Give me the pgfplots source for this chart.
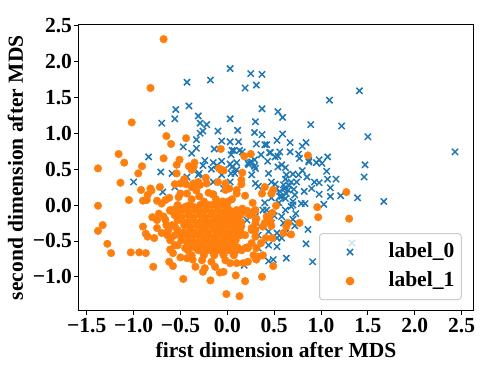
\documentclass[border=0pt]{standalone}
\usepackage{fontspec}
\setmainfont{Liberation Serif}
\usepackage{pgfplots}
\pgfplotsset{compat=1.18}
\definecolor{mplblue}{HTML}{1F77B4}
\definecolor{mplorange}{HTML}{FF7F0E}
\begin{document}
\begin{tikzpicture}[x=1pt,y=1pt]
\useasboundingbox (-78.5pt,-63pt) rectangle (419.5pt,311pt);
\begin{axis}[
    at={(0pt,0pt)}, anchor=south west,
    scale only axis, width=395pt, height=286.5pt,
    xmin=-1.588, xmax=2.627, ymin=-1.476, ymax=2.514,
    xtick={-1.5,-1,-0.5,0,0.5,1,1.5,2,2.5},
    xticklabels={−1.5,−1.0,−0.5,0.0,0.5,1.0,1.5,2.0,2.5},
    ytick={-1,-0.5,0,0.5,1,1.5,2,2.5},
    yticklabels={−1.0,−0.5,0.0,0.5,1.0,1.5,2.0,2.5},
    tick pos=left, tick align=outside,
    major tick length=4pt,
    every tick/.style={black, line width=0.8pt},
    axis line style={black, line width=1pt},
    ticklabel style={font=\fontsize{21.5}{22}\selectfont\bfseries},
    xticklabel style={yshift=0pt},
    yticklabel style={xshift=1pt},
    label style={font=\fontsize{21.5}{22}\selectfont\bfseries},
    xlabel={first dimension after MDS},
    ylabel={second dimension after MDS},
    xlabel style={yshift=-2pt},
    ylabel style={yshift=3pt},
    legend style={
        at={(0.609,0.038)}, anchor=south west,
        draw=black!20, line width=1pt, rounded corners=3pt,
        fill=white, fill opacity=0.8, text opacity=1,
        font=\fontsize{21.5}{22}\selectfont\bfseries,
        inner xsep=5pt, inner ysep=6.5pt,
        nodes={text height=15pt, text depth=5pt},
        row sep=5pt,
    },
    legend image code/.code={\path (0pt,0pt) (61pt,0pt); \draw[#1] plot coordinates {(25pt,0pt)};},
    legend image post style={opacity=1},
    legend cell align=left,
]
\addplot[only marks, mark=x, mark size=4.4pt, color=mplblue, mark options={line width=1.5pt}] coordinates {
(0.03,1.90)(0.25,1.83)(0.37,1.82)(0.31,1.67)(0.19,1.63)(-0.18,1.74)(-0.43,1.71)(-0.41,1.38)(-0.55,1.33)(-0.56,1.20)
(-0.70,1.14)(-0.31,1.24)(-0.29,1.14)(-0.22,1.12)(0.03,1.20)(0.37,1.34)(0.30,1.16)(0.11,1.04)(-0.10,1.03)(-0.26,1.03)
(-0.29,1.00)(0.29,1.01)(0.37,0.98)(-0.33,0.91)(-0.06,0.89)(0.03,0.88)(0.12,0.88)(0.31,0.85)(0.42,0.84)(-0.47,0.81)
(-0.33,0.79)(-0.14,0.78)(0.05,0.76)(0.07,0.76)(0.13,0.76)(0.16,0.74)(-0.38,0.72)(0.04,0.70)(0.36,0.70)(0.45,0.73)
(-0.84,0.67)(0.29,0.63)(0.43,0.61)(-0.24,0.62)(-0.15,0.59)(-0.06,0.61)(0.03,0.57)(0.10,0.59)(0.24,0.59)(-0.26,0.55)
(-0.11,0.55)(0.29,0.54)(2.43,0.74)(1.41,1.59)(1.09,1.46)(0.54,1.30)(0.59,1.22)(0.89,1.12)(1.22,1.10)(1.50,0.95)
(0.59,0.99)(0.53,0.90)(0.67,0.87)(0.84,0.87)(0.80,0.82)(0.40,0.84)(0.46,0.73)(0.56,0.74)(0.67,0.74)(0.54,0.68)
(0.51,0.67)(0.76,0.71)(0.77,0.65)(1.07,0.67)(0.98,0.63)(0.87,0.62)(0.95,0.59)(1.01,0.58)(1.47,0.56)(0.58,0.56)
(0.54,0.53)(0.62,0.52)(0.80,0.48)(1.06,0.47)(1.46,0.39)(1.67,0.05)(1.39,0.10)(1.21,0.13)(1.10,0.12)(1.10,0.24)
(1.16,0.36)(1.07,0.36)(0.98,0.15)(1.03,0.01)(0.98,0.31)(0.93,0.32)(0.90,0.23)(0.85,0.39)(0.76,0.42)(0.70,0.43)
(0.86,-0.34)(0.73,-0.12)(0.72,-0.29)(0.84,-0.54)(0.63,-0.74)(0.91,-0.79)(1.33,-0.53)(0.82,0.19)(0.79,0.02)(0.70,0.05)
(0.68,0.32)(0.61,0.23)(0.63,0.16)(0.71,0.22)(0.58,0.12)(0.62,0.09)(0.70,0.00)(0.83,0.02)(0.62,-0.07)(0.58,-0.16)
(0.87,0.60)(0.44,0.44)(0.30,0.51)(0.26,0.60)(0.23,0.56)(0.62,0.36)(0.47,0.32)(0.30,0.30)(0.51,0.29)(0.33,0.26)
(0.56,0.12)(0.56,0.19)(0.38,-0.07)(0.42,-0.07)(0.44,-0.37)(0.53,-0.46)(0.58,-0.46)(0.44,-0.56)(0.53,-0.58)(0.49,-0.76)
(0.44,-0.78)(0.18,-0.84)(0.21,-0.21)(0.30,-0.16)(0.33,-0.42)(0.14,-0.63)(0.33,-0.60)(0.53,-0.39)(0.62,-0.39)
(-0.31,0.42)(0.05,0.53)(0.08,0.44)(0.22,0.58)(0.26,0.42)(0.63,0.42)(0.65,0.21)(0.74,0.32)(0.72,0.14)
(-0.15,0.32)(-0.04,0.23)(-0.17,0.50)(-0.04,0.49)(0.10,0.49)(-0.71,0.46)(-0.59,0.44)(-0.30,0.44)(-0.06,0.42)(0.04,0.44)
(0.03,0.32)(-1.00,0.32)(-0.69,0.18)(-0.56,0.25)(-0.43,0.39)
(0.60,0.28)(0.66,0.27)(0.52,0.22)(0.47,0.10)(0.40,0.03)(0.55,0.03)(0.68,-0.02)(0.50,-0.15)(0.47,-0.25)(0.35,-0.30)(0.70,-0.20)(0.60,-0.25)
};
\addlegendentry{label\_0}
\addplot[only marks, mark=*, mark size=3.8pt, color=mplorange, mark options={draw=none, fill=mplorange}] coordinates {
(-0.68,2.31)(-0.82,1.63)(-1.02,1.15)(-0.65,0.96)(-0.44,0.93)(-0.60,0.85)(-0.07,0.78)(-1.16,0.71)(0.18,0.68)(0.25,0.71)
(-0.68,0.65)(-1.10,0.59)(-0.51,0.63)(-0.91,0.54)(-0.54,0.56)(-0.35,0.59)(-0.41,0.54)(-0.36,0.53)(-1.38,0.51)(-0.09,0.51)
(-0.06,0.49)(0.86,0.69)(-0.95,0.44)(-1.14,0.31)(-0.92,0.21)(-0.82,0.23)(-0.81,0.20)(-0.72,0.25)(-0.85,0.14)(-0.54,0.44)
(-0.56,0.29)(-0.50,0.30)(-0.46,0.36)(-0.44,0.29)(-0.50,0.16)(-0.52,0.11)(-0.62,0.10)(-0.43,0.16)(-1.05,0.07)(-0.90,0.06)
(-0.86,0.07)(-0.75,0.06)(-0.70,0.02)(-0.66,0.07)(-1.38,-0.01)(-0.56,-0.06)(-0.50,-0.05)(-0.44,-0.02)(-0.61,-0.08)(-0.73,-0.12)
(-0.80,-0.17)(-0.75,-0.21)(-0.68,-0.16)(-0.56,-0.14)(-0.53,-0.21)(-1.33,-0.28)(-1.38,-0.36)(-0.90,-0.30)(-0.75,-0.32)(-0.65,-0.28)
(-0.56,-0.30)(-0.70,-0.39)(-0.87,-0.40)(-0.85,-0.44)(-0.78,-0.46)(-0.64,-0.42)(-0.60,-0.46)(-0.50,-0.42)(-1.28,-0.54)(-0.56,-0.56)
(-0.61,-0.62)(-0.45,-0.60)(-0.58,-0.67)(-1.24,-0.67)(-1.03,-0.66)(-0.94,-0.66)(-0.87,-0.67)(-0.50,-0.73)(-0.43,-0.74)(-0.62,-0.79)
(-0.58,-0.85)(-0.79,-0.86)(-0.47,-1.03)(-0.18,-1.05)(0.19,-1.06)(-0.01,-1.24)(0.13,-1.27)(-0.34,-0.86)(-0.26,-0.93)(-0.13,-0.86)
(-0.08,-0.94)(0.09,-0.98)(-0.37,-0.76)(-0.27,-0.77)(-0.17,-0.79)(-0.02,-0.77)(0.03,-0.81)(0.10,-0.81)(0.17,-0.81)(0.22,-0.79)
(-0.04,0.48)(0.16,0.45)(0.15,0.35)(0.15,0.29)(-0.10,0.32)(-0.02,0.30)(0.02,0.23)(-0.02,0.21)(0.10,0.21)(0.10,0.16)
(0.19,0.13)(0.40,0.25)(0.37,0.16)(0.49,0.21)(0.47,0.16)(0.05,0.08)(0.01,0.05)(0.27,0.03)(0.52,-0.01)(0.48,-0.11)
(0.28,-0.09)(0.16,-0.05)(0.10,-0.07)(0.03,-0.08)(0.21,-0.08)(0.24,-0.14)(0.44,-0.17)(0.40,-0.25)(0.46,-0.23)(0.38,-0.30)
(0.65,-0.25)(0.63,-0.30)(0.60,-0.39)(0.68,-0.41)(0.77,-0.25)(0.31,-0.19)(0.30,-0.25)(0.26,-0.32)(0.15,-0.30)(0.05,-0.25)
(0.14,-0.37)(0.30,-0.44)(0.41,-0.46)(0.48,-0.46)(0.36,-0.53)(0.26,-0.53)(0.21,-0.59)(0.15,-0.63)(0.28,-0.70)(0.38,-0.70)
(0.31,-0.76)(0.49,-0.85)(-0.04,-0.93)(-0.24,-0.88)(0.37,-1.00)(0.96,-0.03)(0.97,-0.17)(1.27,0.18)(1.30,-0.19)(0.30,-0.07)
(0.17,-0.09)(0.22,-0.12)(0.19,-0.42)(0.19,-0.60)(0.22,-0.60)(0.30,-0.74)(0.33,-0.72)(0.31,-0.60)(0.30,-0.35)(0.26,-0.35)
(0.42,-0.16)(0.47,-0.29)
(-0.38,0.25)(-0.33,0.20)(-0.38,0.08)(-0.30,0.12)(-0.22,0.30)(-0.15,0.15)(-0.25,0.05)(-0.12,0.08)(-0.20,0.00)(-0.05,0.05)
(-0.36,0.30)(-0.31,0.30)(-0.20,0.17)(-0.15,0.14)(-0.10,0.03)(-0.38,0.49)(-0.23,0.38)(-0.36,0.25)(-0.31,0.32)(-0.29,0.28)
(-0.53,0.00)(-0.40,0.00)(-0.29,0.00)(-0.16,0.00)(-0.04,0.00)
(-0.61,-0.07)(-0.48,-0.07)(-0.34,-0.07)(-0.23,-0.07)(-0.10,-0.07)(0.01,-0.07)
(-0.56,-0.14)(-0.42,-0.14)(-0.29,-0.14)(-0.16,-0.14)(-0.06,-0.14)(0.05,-0.14)(0.14,-0.14)
(-0.66,-0.21)(-0.49,-0.21)(-0.37,-0.21)(-0.24,-0.21)(-0.12,-0.21)(-0.01,-0.21)(0.09,-0.21)
(-0.59,-0.28)(-0.46,-0.28)(-0.32,-0.28)(-0.21,-0.28)(-0.10,-0.28)(0.02,-0.28)(0.12,-0.28)
(-0.63,-0.35)(-0.53,-0.35)(-0.40,-0.35)(-0.27,-0.35)(-0.14,-0.35)(-0.04,-0.35)(0.07,-0.35)
(-0.56,-0.42)(-0.44,-0.42)(-0.31,-0.42)(-0.20,-0.42)(-0.08,-0.42)(0.03,-0.42)(0.14,-0.42)
(-0.61,-0.49)(-0.49,-0.49)(-0.37,-0.49)(-0.25,-0.49)(-0.13,-0.49)(-0.01,-0.49)(0.09,-0.49)
(-0.53,-0.56)(-0.40,-0.56)(-0.29,-0.56)(-0.17,-0.56)(-0.06,-0.56)(0.05,-0.56)
(-0.42,-0.63)(-0.31,-0.63)(-0.21,-0.63)(-0.10,-0.63)(0.01,-0.63)(0.09,-0.63)
(-0.38,-0.70)(-0.25,-0.70)(-0.14,-0.70)(-0.04,-0.70)(0.07,-0.70)
(-0.47,-0.04)(-0.35,-0.03)(-0.23,-0.03)(-0.10,-0.03)(0.00,-0.03)
(-0.54,-0.10)(-0.41,-0.10)(-0.28,-0.10)(-0.17,-0.10)(-0.04,-0.10)(0.07,-0.10)
(-0.49,-0.17)(-0.36,-0.17)(-0.23,-0.17)(-0.11,-0.17)(0.00,-0.17)(0.10,-0.17)
(-0.43,-0.24)(-0.30,-0.24)(-0.18,-0.24)(-0.06,-0.24)(0.04,-0.24)(0.15,-0.24)
(-0.39,-0.31)(-0.26,-0.31)(-0.15,-0.31)(-0.04,-0.31)(0.08,-0.31)
(-0.47,-0.38)(-0.34,-0.38)(-0.21,-0.38)(-0.09,-0.38)(0.01,-0.38)(0.11,-0.38)
(-0.38,-0.45)(-0.25,-0.45)(-0.14,-0.45)(-0.02,-0.45)(0.09,-0.45)
(-0.43,-0.52)(-0.31,-0.52)(-0.19,-0.52)(-0.07,-0.52)(0.04,-0.52)
(-0.35,-0.59)(-0.23,-0.59)(-0.12,-0.59)(-0.01,-0.59)(0.11,-0.59)
(-0.26,-0.66)(-0.15,-0.66)(-0.05,-0.66)(0.06,-0.66)
};
\addlegendentry{label\_1}
\end{axis}
\end{tikzpicture}
\end{document}
